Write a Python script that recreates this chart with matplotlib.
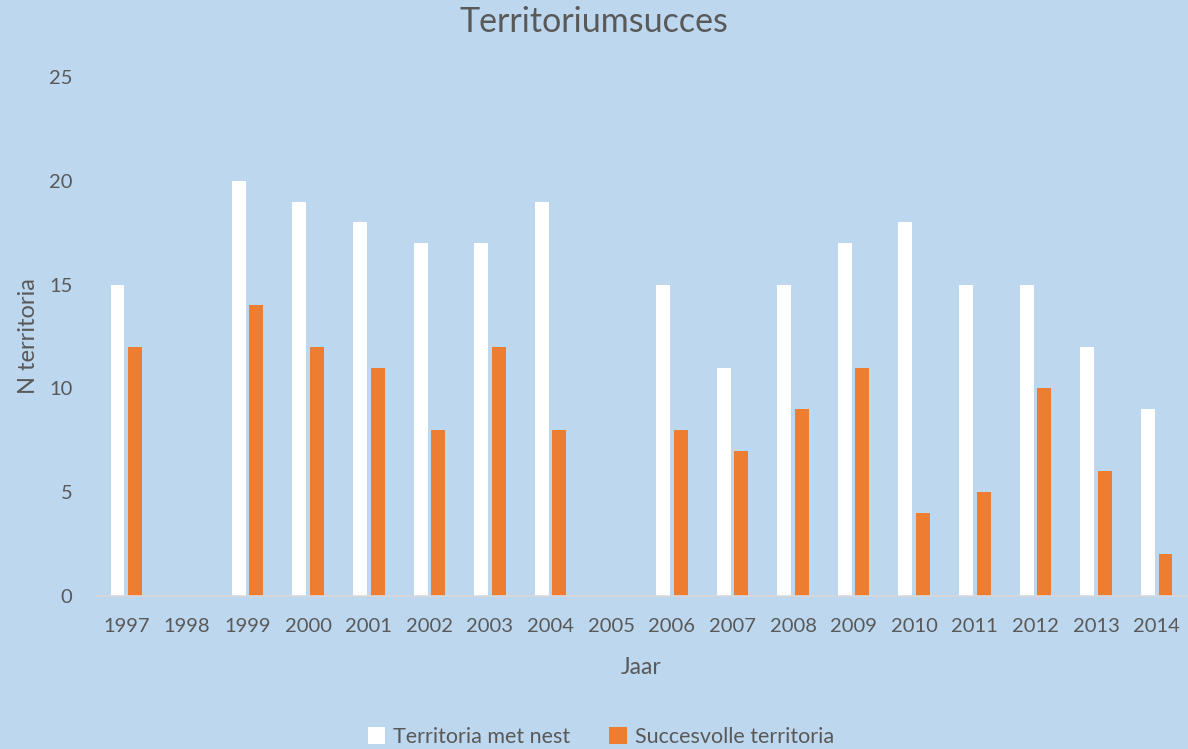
import matplotlib
matplotlib.use("Agg")
import matplotlib.pyplot as plt
import numpy as np

years = ["1997", "1998", "1999", "2000", "2001", "2002", "2003", "2004", "2005",
         "2006", "2007", "2008", "2009", "2010", "2011", "2012", "2013", "2014"]
met_nest = [15, 0, 20, 19, 18, 17, 17, 19, 0, 15, 11, 15, 17, 18, 15, 15, 12, 9]
succesvol = [12, 0, 14, 12, 11, 8, 12, 8, 0, 8, 7, 9, 11, 4, 5, 10, 6, 2]

BG = "#BDD7EE"
TXT = "#595959"
plt.rcParams['font.family'] = ['Lato', 'DejaVu Sans']

fig = plt.figure(figsize=(11.88, 7.49), dpi=100, facecolor=BG)
ax = fig.add_axes([96/1188, 1-596/749, 1091/1188, (596-77)/749])
ax.set_facecolor(BG)

x = np.arange(len(years))
w = 0.23
ax.bar(x - 0.145, met_nest, width=w, color="white", label="Territoria met nest")
ax.bar(x + 0.145, succesvol, width=w, color="#ED7D31", label="Succesvolle territoria")

ax.set_xlim(-0.5, len(years) - 0.5)
ax.set_ylim(0, 25)
ax.set_yticks([0, 5, 10, 15, 20, 25])
ax.set_xticks(x)
ax.set_xticklabels(years)
ax.tick_params(axis='both', length=0, labelsize=14.5, colors=TXT)
ax.tick_params(axis='x', pad=16)
ax.tick_params(axis='y', pad=17)
for s in ["top", "right", "left"]:
    ax.spines[s].set_visible(False)
ax.spines["bottom"].set_color("#D9D9D9")
ax.spines["bottom"].set_linewidth(1.2)

ax.set_xlabel("Jaar", fontsize=16.5, color=TXT, labelpad=16)
ax.set_ylabel("N territoria", fontsize=17, color=TXT, labelpad=7)
fig.text(0.5, 1-22/749, "Territoriumsucces", ha="center", va="center", fontsize=24.5, color=TXT)

fig.legend(loc="center", bbox_to_anchor=(601/1188, 1-737/749), ncol=2, frameon=False,
           fontsize=15.5, labelcolor=TXT, handlelength=0.8, handleheight=0.8,
           columnspacing=1.8, handletextpad=0.4)

fig.savefig("out.png", dpi=100, facecolor=BG)
